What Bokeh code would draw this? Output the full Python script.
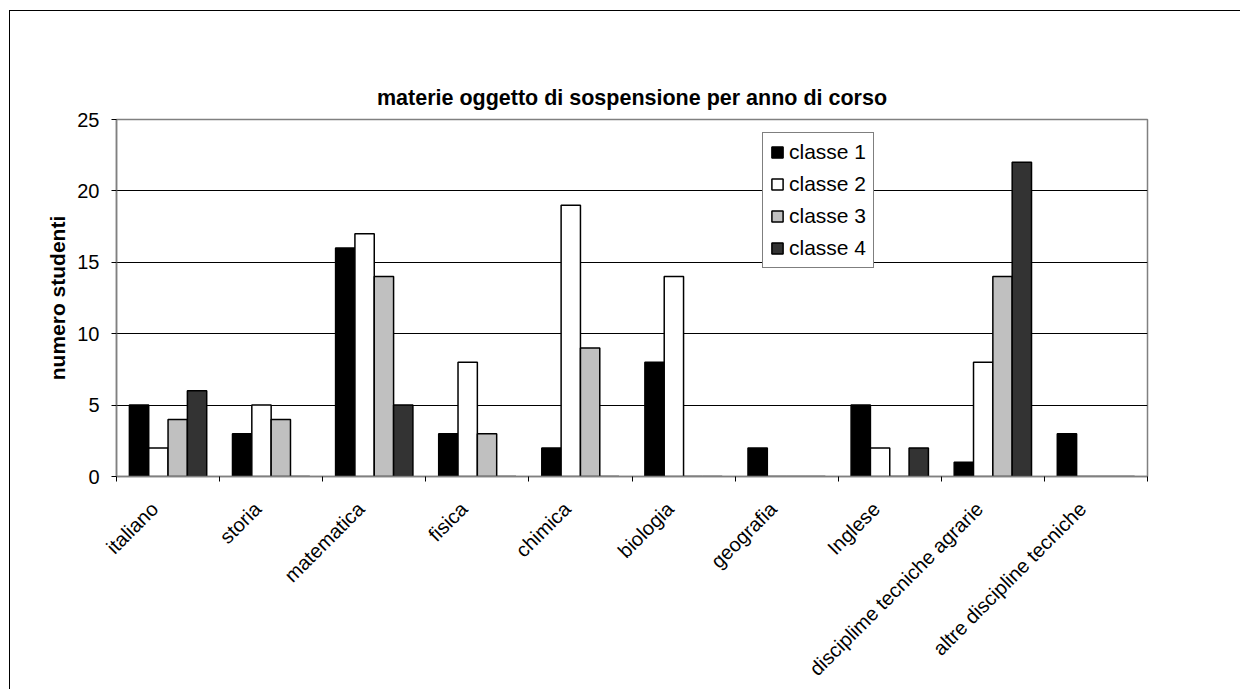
import math
from bokeh.plotting import figure
from bokeh.models import (Range1d, FixedTicker, Legend, LegendItem, ColumnDataSource, LinearAxis)
from bokeh.transform import dodge
from bokeh.embed import file_html
from bokeh.resources import INLINE

categories = ["italiano", "storia", "matematica", "fisica", "chimica", "biologia",
              "geografia", "Inglese", "disciplime tecniche agrarie", "altre discipline tecniche"]
classe1 = [5, 3, 16, 3, 2, 8, 2, 5, 1, 3]
classe2 = [2, 5, 17, 8, 19, 14, 0, 2, 8, 0]
classe3 = [4, 4, 14, 3, 9, 0, 0, 0, 14, 0]
classe4 = [6, 0, 5, 0, 0, 0, 0, 2, 22, 0]
series_names = ["classe 1", "classe 2", "classe 3", "classe 4"]
series_colors = ["#000000", "#FFFFFF", "#C0C0C0", "#333333"]
y_ticks = [0, 5, 10, 15, 20, 25]

FONT = "Liberation Sans"
n = len(categories)
centers = [i + 0.5 for i in range(n)]
LABEL_SHIFT = 0.13  # category labels sit slightly left of the group centre
label_pos = [c - LABEL_SHIFT for c in centers]

src = ColumnDataSource(dict(pos=centers, c1=classe1, c2=classe2, c3=classe3, c4=classe4))

p = figure(x_range=Range1d(0, n), y_range=Range1d(0, 25),
           width=1231, height=679, output_backend="svg", toolbar_location=None,
           min_border_left=106, min_border_right=94,
           min_border_top=108, min_border_bottom=213)
p.styles = {"border-left": "1px solid #000", "border-top": "1px solid #000",
            "margin-top": "10px", "margin-left": "9px"}

# the real x axis (below) - grab it before adding anything else
xa = p.below[0]

p.title.text = "materie oggetto di sospensione per anno di corso"
p.title.align = "center"
p.title.text_font = FONT
p.title.text_font_size = "21.5px"
p.title.text_font_style = "bold"
p.title.text_color = "#000000"
p.title.standoff = 20

p.outline_line_color = "#808080"
p.outline_line_width = 1.5
p.background_fill_color = "white"
p.border_fill_color = "white"

# y axis
ya = p.left[0]
ya.ticker = FixedTicker(ticks=y_ticks)
ya.axis_line_color = "#808080"
ya.axis_line_width = 1.5
ya.major_tick_line_color = "#000000"
ya.major_tick_out = 5
ya.major_tick_in = 0
ya.minor_tick_line_color = None
ya.major_label_text_font = FONT
ya.major_label_text_font_size = "20px"
ya.major_label_text_color = "#000000"
ya.major_label_standoff = 12
ya.axis_label = "numero studenti"
ya.axis_label_text_font = FONT
ya.axis_label_text_font_size = "21px"
ya.axis_label_text_font_style = "bold"
ya.axis_label_text_color = "#000000"
ya.axis_label_standoff = 5

p.xgrid.visible = False
p.ygrid.ticker = FixedTicker(ticks=y_ticks[1:-1])
p.ygrid.grid_line_color = "#000000"
p.ygrid.grid_line_width = 1

# x axis: labels near category centres, ticks at boundaries
xa.ticker = FixedTicker(ticks=label_pos, minor_ticks=list(range(n + 1)))
xa.major_label_overrides = {c: lab for c, lab in zip(label_pos, categories)}
xa.axis_line_color = "#808080"
xa.axis_line_width = 1.5
xa.major_tick_line_color = None
xa.major_tick_out = 0
xa.major_tick_in = 0
xa.minor_tick_line_color = "#000000"
xa.minor_tick_out = 5
xa.minor_tick_in = 0
xa.major_label_orientation = math.pi / 4
xa.major_label_text_font = FONT
xa.major_label_text_font_size = "20px"
xa.major_label_text_color = "#000000"
xa.major_label_standoff = 24

# invisible spacer between the frame and the title
spacer = LinearAxis(ticker=FixedTicker(ticks=[]))
spacer.axis_line_color = None
spacer.major_tick_line_color = None
spacer.minor_tick_line_color = None
spacer.major_tick_out = 44
spacer.major_tick_in = 0
spacer.minor_tick_out = 0
spacer.major_label_standoff = 0
spacer.major_label_text_font_size = "0px"
p.add_layout(spacer, "above")

bw = 0.1875
offsets = [-1.5 * bw, -0.5 * bw, 0.5 * bw, 1.5 * bw]
renderers = []
for col, off, color in zip(["c1", "c2", "c3", "c4"], offsets, series_colors):
    r = p.vbar(x=dodge("pos", off), top=col, width=bw, source=src,
               fill_color=color, line_color="#000000", line_width=1.5)
    renderers.append(r)

legend = Legend(items=[LegendItem(label=nm, renderers=[r]) for nm, r in zip(series_names, renderers)],
                location=(646, 208))
legend.label_text_font = FONT
legend.label_text_font_size = "21px"
legend.label_text_color = "#000000"
legend.glyph_width = 14
legend.glyph_height = 14
legend.label_standoff = 5
legend.label_height = 20
legend.spacing = 8
legend.padding = 7
legend.margin = 0
legend.border_line_color = "#000000"
legend.border_line_width = 1
legend.background_fill_alpha = 1
p.add_layout(legend)

open("out.html", "w").write(file_html(p, INLINE))
